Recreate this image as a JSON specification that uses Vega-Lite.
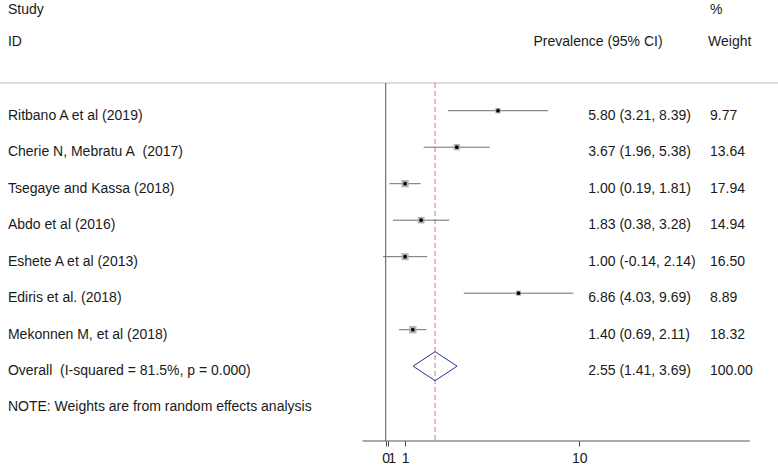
{
  "$schema": "https://vega.github.io/schema/vega-lite/v6.json",
  "width": 778,
  "height": 441,
  "autosize": "none",
  "padding": {"left": 0, "top": 0, "right": 0, "bottom": 25},
  "background": "white",
  "config": {
    "view": {"stroke": null},
    "text": {"font": "Liberation Sans", "fontSize": 14, "color": "#1a1a1a"},
    "axis": {"labelFont": "Liberation Sans"}
  },
  "datasets": {
    "studies": [
      {"row": 1, "study": "Ritbano A et al (2019)", "es": 5.80, "lo": 3.21, "hi": 8.39, "w": 9.77, "ci": "5.80 (3.21, 8.39)", "wt": "9.77", "kind": "study"},
      {"row": 2, "study": "Cherie N, Mebratu A\u00a0 (2017)", "es": 3.67, "lo": 1.96, "hi": 5.38, "w": 13.64, "ci": "3.67 (1.96, 5.38)", "wt": "13.64", "kind": "study"},
      {"row": 3, "study": "Tsegaye and Kassa (2018)", "es": 1.00, "lo": 0.19, "hi": 1.81, "w": 17.94, "ci": "1.00 (0.19, 1.81)", "wt": "17.94", "kind": "study"},
      {"row": 4, "study": "Abdo et al (2016)", "es": 1.83, "lo": 0.38, "hi": 3.28, "w": 14.94, "ci": "1.83 (0.38, 3.28)", "wt": "14.94", "kind": "study"},
      {"row": 5, "study": "Eshete A et al (2013)", "es": 1.00, "lo": -0.14, "hi": 2.14, "w": 16.50, "ci": "1.00 (-0.14, 2.14)", "wt": "16.50", "kind": "study"},
      {"row": 6, "study": "Ediris et al. (2018)", "es": 6.86, "lo": 4.03, "hi": 9.69, "w": 8.89, "ci": "6.86 (4.03, 9.69)", "wt": "8.89", "kind": "study"},
      {"row": 7, "study": "Mekonnen M, et al (2018)", "es": 1.40, "lo": 0.69, "hi": 2.11, "w": 18.32, "ci": "1.40 (0.69, 2.11)", "wt": "18.32", "kind": "study"},
      {"row": 8, "study": "Overall\u00a0 (I-squared = 81.5%, p = 0.000)", "es": 2.55, "lo": 1.41, "hi": 3.69, "w": 100.00, "ci": "2.55 (1.41, 3.69)", "wt": "100.00", "kind": "overall"}
    ],
    "one": [{}]
  },
  "layer": [
    {
      "data": {"name": "one"},
      "mark": {"type": "rule", "color": "#cfcfcf", "strokeWidth": 1.5},
      "encoding": {
        "x": {"datum": -19.92, "type": "quantitative",
              "scale": {"domain": [-19.92, 20.26], "nice": false, "zero": false},
              "axis": {"values": [0, 0.1, 1, 10], "title": null, "domain": false, "grid": false,
                       "tickSize": 5, "tickColor": "#444444", "tickWidth": 1,
                       "labelFontSize": 14, "labelColor": "#1a1a1a", "labelPadding": 5,
                       "labelOverlap": false, "labelFlush": false,
                       "labelExpr": "datum.value == 0.1 ? '1' : datum.label",
                       "labelAlign": {"condition": {"test": "datum.value == 0.1", "value": "left"}, "value": "center"}}},
        "x2": {"datum": 20.26},
        "y": {"datum": 0.241, "type": "quantitative",
              "scale": {"domain": [-2.033, 10.05], "nice": false, "zero": false, "reverse": true},
              "axis": null}
      }
    },
    {
      "data": {"name": "one"},
      "mark": {"type": "rule", "color": "#555555", "strokeWidth": 1},
      "encoding": {
        "x": {"datum": 0, "type": "quantitative"},
        "y": {"datum": 0.241, "type": "quantitative", "axis": null},
        "y2": {"datum": 10.05}
      }
    },
    {
      "data": {"name": "one"},
      "mark": {"type": "rule", "color": "#555555", "strokeWidth": 1},
      "encoding": {
        "x": {"datum": -1.2, "type": "quantitative"},
        "x2": {"datum": 18.8},
        "y": {"datum": 10.05, "type": "quantitative", "axis": null}
      }
    },
    {
      "data": {"name": "studies"},
      "transform": [{"filter": "datum.kind == 'overall'"}],
      "mark": {"type": "rule", "color": "#d0708a", "strokeWidth": 1, "strokeDash": [5, 3]},
      "encoding": {
        "x": {"field": "es", "type": "quantitative"},
        "y": {"datum": 0.241, "type": "quantitative", "axis": null},
        "y2": {"datum": 10.05}
      }
    },
    {
      "data": {"name": "studies"},
      "transform": [{"filter": "datum.kind == 'study'"}],
      "mark": {"type": "rule", "color": "#6e6e6e", "strokeWidth": 1},
      "encoding": {
        "x": {"field": "lo", "type": "quantitative"},
        "x2": {"field": "hi"},
        "y": {"field": "row", "type": "quantitative", "axis": null}
      }
    },
    {
      "data": {"name": "studies"},
      "transform": [{"filter": "datum.kind == 'study'"}],
      "mark": {"type": "point", "shape": "square", "filled": true, "color": "#b4b4b4", "opacity": 1},
      "encoding": {
        "x": {"field": "es", "type": "quantitative"},
        "y": {"field": "row", "type": "quantitative", "axis": null},
        "size": {"field": "w", "type": "quantitative", "legend": null,
                 "scale": {"domain": [0, 20], "range": [0, 60], "zero": true}}
      }
    },
    {
      "data": {"name": "studies"},
      "transform": [{"filter": "datum.kind == 'study'"}],
      "mark": {"type": "point", "shape": "circle", "filled": true, "color": "#000000", "size": 14, "opacity": 1},
      "encoding": {
        "x": {"field": "es", "type": "quantitative"},
        "y": {"field": "row", "type": "quantitative", "axis": null}
      }
    },
    {
      "data": {"name": "studies"},
      "transform": [{"filter": "datum.kind == 'overall'"}],
      "mark": {"type": "point", "shape": "M-1,0L0,-0.66L1,0L0,0.66Z", "filled": false, "stroke": "#2e2e8f", "strokeWidth": 1, "size": 1936, "opacity": 1},
      "encoding": {
        "x": {"field": "es", "type": "quantitative"},
        "y": {"field": "row", "type": "quantitative", "axis": null}
      }
    },
    {
      "data": {"name": "studies"},
      "mark": {"type": "text", "align": "left", "baseline": "middle", "dy": 5},
      "encoding": {
        "x": {"datum": -19.51, "type": "quantitative"},
        "y": {"field": "row", "type": "quantitative", "axis": null},
        "text": {"field": "study"}
      }
    },
    {
      "data": {"name": "studies"},
      "mark": {"type": "text", "align": "left", "baseline": "middle", "dy": 5},
      "encoding": {
        "x": {"datum": 10.46, "type": "quantitative"},
        "y": {"field": "row", "type": "quantitative", "axis": null},
        "text": {"field": "ci"}
      }
    },
    {
      "data": {"name": "studies"},
      "mark": {"type": "text", "align": "left", "baseline": "middle", "dy": 5},
      "encoding": {
        "x": {"datum": 16.75, "type": "quantitative"},
        "y": {"field": "row", "type": "quantitative", "axis": null},
        "text": {"field": "wt"}
      }
    },
    {
      "data": {"name": "one"},
      "mark": {"type": "text", "align": "left", "baseline": "middle", "text": "Study"},
      "encoding": {
        "x": {"datum": -19.51, "type": "quantitative"},
        "y": {"datum": -1.759, "type": "quantitative", "axis": null}
      }
    },
    {
      "data": {"name": "one"},
      "mark": {"type": "text", "align": "left", "baseline": "middle", "text": "ID"},
      "encoding": {
        "x": {"datum": -19.51, "type": "quantitative"},
        "y": {"datum": -0.882, "type": "quantitative", "axis": null}
      }
    },
    {
      "data": {"name": "one"},
      "mark": {"type": "text", "align": "left", "baseline": "middle", "text": "Prevalence (95% CI)"},
      "encoding": {
        "x": {"datum": 7.63, "type": "quantitative"},
        "y": {"datum": -0.882, "type": "quantitative", "axis": null}
      }
    },
    {
      "data": {"name": "one"},
      "mark": {"type": "text", "align": "left", "baseline": "middle", "text": "%"},
      "encoding": {
        "x": {"datum": 16.75, "type": "quantitative"},
        "y": {"datum": -1.759, "type": "quantitative", "axis": null}
      }
    },
    {
      "data": {"name": "one"},
      "mark": {"type": "text", "align": "left", "baseline": "middle", "text": "Weight"},
      "encoding": {
        "x": {"datum": 16.65, "type": "quantitative"},
        "y": {"datum": -0.882, "type": "quantitative", "axis": null}
      }
    },
    {
      "data": {"name": "one"},
      "mark": {"type": "text", "align": "left", "baseline": "middle", "text": "NOTE: Weights are from random effects analysis"},
      "encoding": {
        "x": {"datum": -19.51, "type": "quantitative"},
        "y": {"datum": 9.13, "type": "quantitative", "axis": null}
      }
    }
  ]
}
